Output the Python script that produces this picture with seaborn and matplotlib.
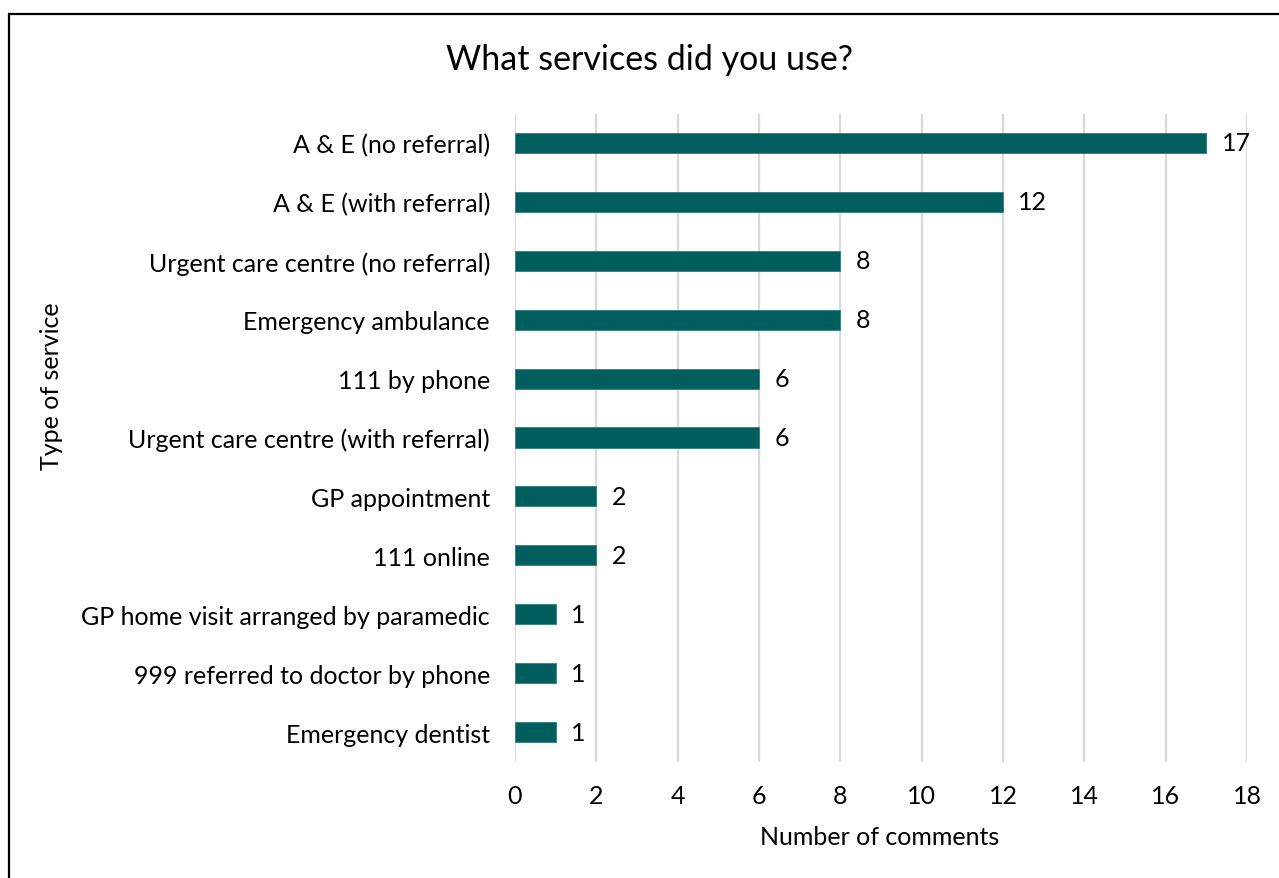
import matplotlib
matplotlib.use("Agg")
import matplotlib.pyplot as plt
from matplotlib.patches import Rectangle
import seaborn as sns
import pandas as pd

services = [
    "A & E (no referral)",
    "A & E (with referral)",
    "Urgent care centre (no referral)",
    "Emergency ambulance",
    "111 by phone",
    "Urgent care centre (with referral)",
    "GP appointment",
    "111 online",
    "GP home visit arranged by paramedic",
    "999 referred to doctor by phone",
    "Emergency dentist",
]
comments = [17, 12, 8, 8, 6, 6, 2, 2, 1, 1, 1]
x_ticks = [0, 2, 4, 6, 8, 10, 12, 14, 16, 18]

df = pd.DataFrame({"service": services, "comments": comments})

sns.set_theme(style="white")
plt.rcParams["font.family"] = ["Lato", "DejaVu Sans"]

W, H = 1279, 879
FS = 18
fig = plt.figure(figsize=(W / 100, H / 100), dpi=100)
ax = fig.add_axes([515 / W, 1 - 762.5 / H, (1247 - 515) / W, (762.5 - 114.5) / H])

sns.barplot(data=df, x="comments", y="service", orient="h", color="#005e5e",
            width=0.34, saturation=1, edgecolor="#2f7f7f", linewidth=0.6, ax=ax)

ax.set_xlim(0, 18)
ax.set_ylim(10.5, -0.5)
ax.set_xticks(x_ticks)
ax.set_xticklabels([str(t) for t in x_ticks])
ax.grid(axis="x", color="#d9d9d9", linewidth=1.6)
ax.grid(axis="y", visible=False)
ax.set_axisbelow(True)
for s in ax.spines.values():
    s.set_visible(False)
ax.tick_params(axis="both", length=0, labelsize=FS, colors="black")
ax.tick_params(axis="y", pad=18)
ax.tick_params(axis="x", pad=16)
ax.set_xlabel("")
ax.set_ylabel("")

ax.bar_label(ax.containers[0], labels=[str(v) for v in comments],
             padding=11, fontsize=FS, color="black")

fig.text(650 / W, 1 - 60 / H, "What services did you use?", ha="center", va="center",
         fontsize=24.5, color="black")
fig.text(880 / W, 1 - 838 / H, "Number of comments", ha="center", va="center",
         fontsize=FS, color="black")
fig.text(52 / W, 1 - 386 / H, "Type of service", ha="center", va="center",
         rotation=90, fontsize=FS, color="black")

fig.patches.append(Rectangle((9 / W, -0.2), 1.5, 1.2 - 15 / H, transform=fig.transFigure,
                             fill=False, edgecolor="black", linewidth=1.6, zorder=10))

fig.savefig("out.png", dpi=100)
